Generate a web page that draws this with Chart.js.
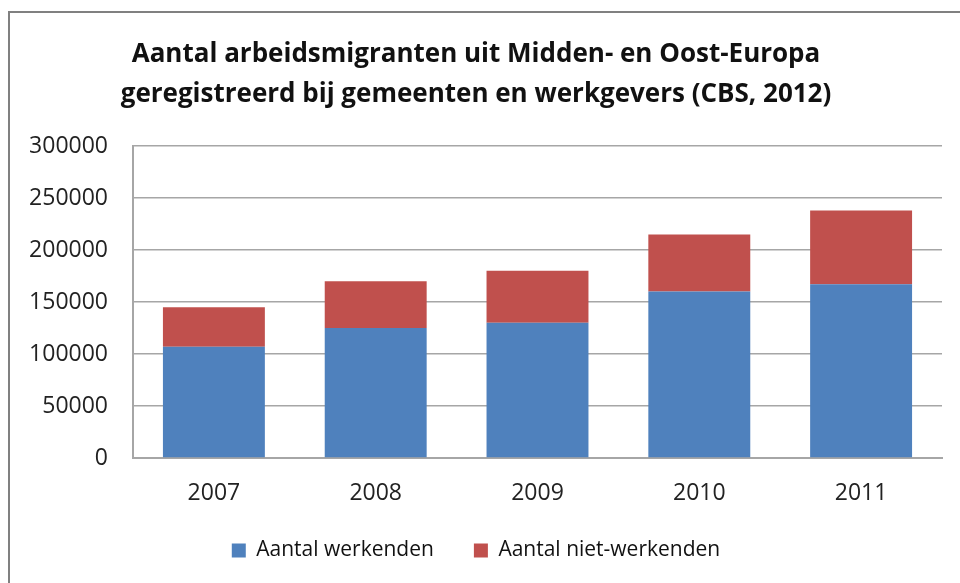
<!DOCTYPE html>
<html>
<head>
<meta charset="utf-8">
<script src="https://cdn.jsdelivr.net/npm/chart.js@4/dist/chart.umd.min.js"></script>
<style>
  html, body { margin: 0; padding: 0; background: #fff; }
  #wrap { width: 960px; height: 583px; position: relative; }
</style>
</head>
<body>
<div id="wrap"><canvas id="c" width="960" height="583"></canvas></div>
<script>
const categories = ['2007', '2008', '2009', '2010', '2011'];
const werkenden = [107000, 125000, 130000, 160000, 167000];
const nietWerkenden = [38000, 45000, 50000, 55000, 71000];
const titleLines = ['Aantal arbeidsmigranten uit Midden- en Oost-Europa', 'geregistreerd bij gemeenten en werkgevers (CBS, 2012)'];
const seriesNames = ['Aantal werkenden', 'Aantal niet-werkenden'];

const frame = {
  id: 'frame',
  beforeDraw(chart) {
    const ctx = chart.ctx;
    ctx.save();
    ctx.fillStyle = '#ffffff';
    ctx.fillRect(0, 0, chart.width, chart.height);
    ctx.strokeStyle = '#808080';
    ctx.lineWidth = 2;
    ctx.strokeRect(9, 12, 1000, 1000);
    ctx.restore();
  }
};

const legendFix = {
  id: 'legendFix',
  beforeLayout(chart) {
    const lg = chart.legend;
    if (lg && !lg._patched) {
      const f = lg.fit;
      lg.fit = function () { f.call(this); this.height = 83; };
      lg._patched = true;
    }
  }
};

new Chart(document.getElementById('c'), {
  type: 'bar',
  data: {
    labels: categories,
    datasets: [
      { label: seriesNames[0], data: werkenden, backgroundColor: '#4F81BD', borderWidth: 0 },
      { label: seriesNames[1], data: nietWerkenden, backgroundColor: '#C0504D', borderWidth: 0 }
    ]
  },
  options: {
    responsive: false,
    animation: false,
    devicePixelRatio: 1,
    layout: { padding: { left: 10, right: 18, top: 35, bottom: 0 } },
    datasets: { bar: { categoryPercentage: 1.0, barPercentage: 0.63 } },
    plugins: {
      title: {
        display: true,
        text: titleLines,
        color: '#111',
        font: { family: 'Open Sans', size: 26, weight: 'bold', lineHeight: 40 / 26 },
        padding: { top: 0, bottom: 31 }
      },
      legend: {
        position: 'bottom',
        labels: {
          boxWidth: 14,
          boxHeight: 14,
          padding: 40,
          color: '#111',
          font: { family: 'Open Sans', size: 21 }
        }
      },
      tooltip: { enabled: false }
    },
    scales: {
      x: {
        stacked: true,
        grid: { display: false, drawTicks: false },
        border: { display: true, color: '#a6a6a6', width: 2 },
        ticks: { color: '#222', padding: 22, font: { family: 'Open Sans', size: 23 } },
        afterFit(s) { s.height = 42; }
      },
      y: {
        stacked: true,
        min: 0,
        max: 300000,
        grid: { color: '#a6a6a6', lineWidth: 1.5, drawTicks: false },
        border: { display: true, color: '#a6a6a6', width: 2 },
        ticks: {
          stepSize: 50000,
          color: '#222',
          padding: 25,
          font: { family: 'Open Sans', size: 23 },
          callback: v => String(v)
        },
        afterFit(s) { s.width = 123; }
      }
    }
  },
  plugins: [frame, legendFix]
});
</script>
</body>
</html>
